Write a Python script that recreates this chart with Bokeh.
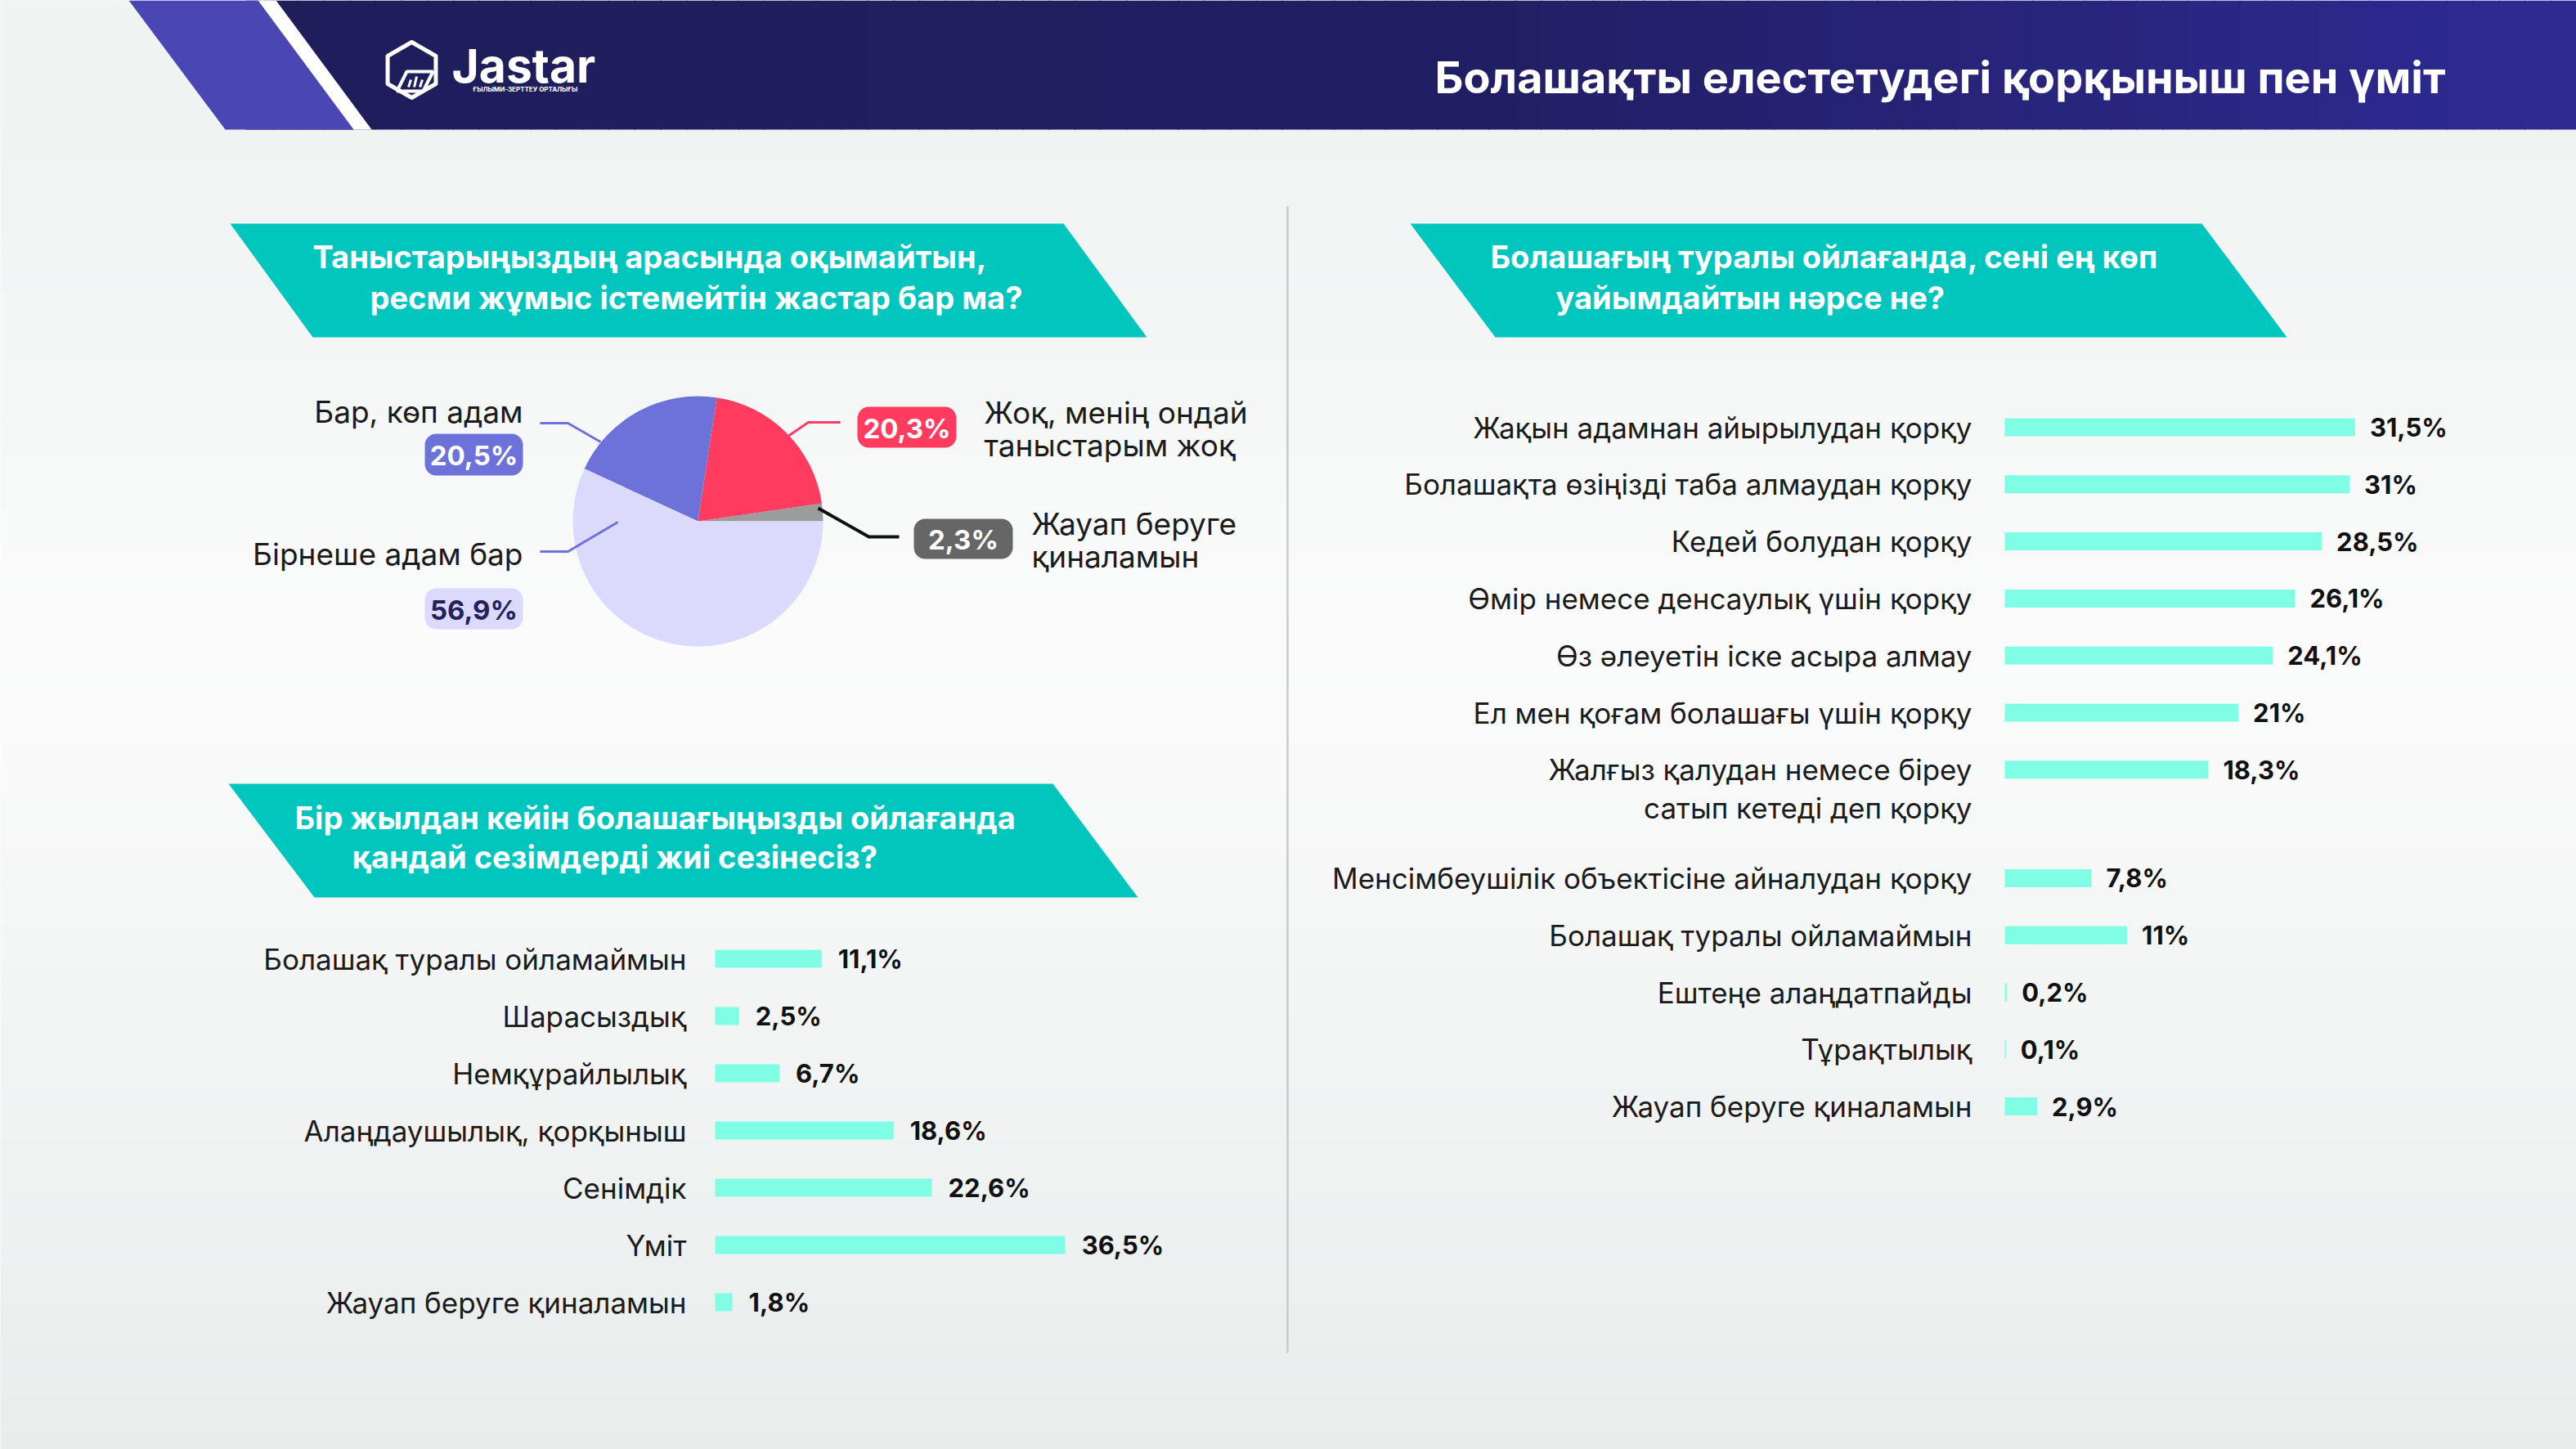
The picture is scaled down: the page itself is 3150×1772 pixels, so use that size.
import numpy as np
from bokeh.plotting import figure
from bokeh.models import Range1d
from bokeh.core.properties import value
from bokeh.embed import file_html
from bokeh.resources import INLINE

# ---------------- data ----------------
page_title = "Болашақты елестетудегі қорқыныш пен үміт"
logo_name = "Jastar"
logo_sub = "ҒЫЛЫМИ-ЗЕРТТЕУ ОРТАЛЫҒЫ"

q1_lines = ["Таныстарыңыздың арасында оқымайтын,",
            "ресми жұмыс істемейтін жастар бар ма?"]
pie_labels = ["Жауап беруге\nқиналамын", "Жоқ, менің ондай\nтаныстарым жоқ",
              "Бар, көп адам", "Бірнеше адам бар"]
pie_values = [2.3, 20.3, 20.5, 56.9]

q2_lines = ["Бір жылдан кейін болашағыңызды ойлағанда",
            "қандай сезімдерді жиі сезінесіз?"]
feel_labels = ["Болашақ туралы ойламаймын", "Шарасыздық", "Немқұрайлылық",
               "Алаңдаушылық, қорқыныш", "Сенімдік", "Үміт",
               "Жауап беруге қиналамын"]
feel_values = [11.1, 2.5, 6.7, 18.6, 22.6, 36.5, 1.8]

q3_lines = ["Болашағың туралы ойлағанда, сені ең көп",
            "уайымдайтын нәрсе не?"]
fear_labels = ["Жақын адамнан айырылудан қорқу",
               "Болашақта өзіңізді таба алмаудан қорқу",
               "Кедей болудан қорқу",
               "Өмір немесе денсаулық үшін қорқу",
               "Өз әлеуетін іске асыра алмау",
               "Ел мен қоғам болашағы үшін қорқу",
               "Жалғыз қалудан немесе біреу\nсатып кетеді деп қорқу",
               "Менсімбеушілік объектісіне айналудан қорқу",
               "Болашақ туралы ойламаймын",
               "Ештеңе алаңдатпайды",
               "Тұрақтылық",
               "Жауап беруге қиналамын"]
fear_values = [31.5, 31, 28.5, 26.1, 24.1, 21, 18.3, 7.8, 11, 0.2, 0.1, 2.9]

# ---------------- styling ----------------
FONT = "Inter"
TEAL = "#01c6be"
BAR = "#80fde5"
INK = "#1b1b1b"
pie_colors = ["#9c9c9c", "#ff3b60", "#6c72da", "#dcdafc"]
badge_fill = ["#666666", "#ff3b60", "#6c72da", "#dcdafc"]
badge_text = ["#ffffff", "#ffffff", "#ffffff", "#24215e"]
leader_color = ["#111111", "#ff3b60", "#6c72da", "#6c72da"]


def pct(v):
    return f"{v:g}".replace(".", ",") + "%"


def hex2rgb(h):
    h = h.lstrip("#")
    return np.array([int(h[i:i + 2], 16) for i in (0, 2, 4)], dtype=float)


def rgb2hex(c):
    return "#%02x%02x%02x" % tuple(int(round(v)) for v in c)


def interp_color(stops, t):
    pos = [s[0] for s in stops]
    cols = [hex2rgb(s[1]) for s in stops]
    out = [np.interp(t, pos, [c[k] for c in cols]) for k in range(3)]
    return rgb2hex(out)


W, H = 3150, 1772
FX0, FY0 = 0, 0

p = figure(width=W, height=H, x_range=Range1d(FX0, FX0 + W),
           y_range=Range1d(FY0 + H, FY0), output_backend="svg",
           toolbar_location=None, x_axis_type=None, y_axis_type=None,
           min_border=0, outline_line_color=None,
           background_fill_color="#f6f8f8", border_fill_color="#f6f8f8")
p.xgrid.visible = False
p.ygrid.visible = False

# ---------------- background gradient ----------------
bg_stops = [(0, "#eef2f1"), (160, "#eff3f2"), (800, "#fbfbfb"), (1772, "#e8edec")]
nb = 80
edges = np.linspace(0, 1772, nb + 1)
p.quad(left=0, right=3150, top=edges[:-1], bottom=edges[1:] + 1.5,
       color=[interp_color(bg_stops, (edges[i] + edges[i + 1]) / 2) for i in range(nb)],
       line_color=None)

# ---------------- header ----------------
HB = 158
hx = np.linspace(300, 3150, 91)
p.quad(left=hx[:-1], right=hx[1:] + 1.5, top=0, bottom=HB,
       color=[interp_color([(300, "#1f1e5b"), (1800, "#211f63"), (3150, "#2e2a93")],
                           (hx[i] + hx[i + 1]) / 2) for i in range(90)],
       line_color=None)
p.patch([0, 157, 275, 0], [0, 0, HB, HB], color="#eff3f2", line_color=None)
p.patch([157, 315, 432, 275], [0, 0, HB, HB], color="#4a46b3", line_color=None)
p.patch([315, 337, 454, 432], [0, 0, HB, HB], color="#ffffff", line_color=None)

# logo icon (hexagon box)
cx, cy, r = 503, 85, 34
a = np.deg2rad(np.arange(6) * 60 + 90)
p.patch(cx + r * np.cos(a), cy - r * np.sin(a), fill_color=None,
        line_color="white", line_width=5, line_join="round")
p.patch([cx - 6, cx + 26, cx + 14, cx - 18], [cy + 2, cy + 2, cy + 26, cy + 26],
        fill_color=None, line_color="white", line_width=4)
p.segment(x0=[cx - 4, cx + 3, cx + 10], y0=[cy + 21, cy + 21, cy + 21],
          x1=[cx - 1, cx + 6, cx + 13], y1=[cy + 12, cy + 8, cy + 12],
          line_color="white", line_width=3)
p.text(x=[552], y=[80], text=[logo_name], text_font=value(FONT), text_font_style="bold",
       text_font_size="57px", text_color="white", text_baseline="middle", text_align="left")
p.text(x=[578], y=[108], text=[logo_sub], text_font=value(FONT), text_font_style="bold",
       text_font_size="8px", text_color="white", text_baseline="middle", text_align="left")

p.text(x=[2990], y=[94], text=[page_title], text_font=value(FONT), text_font_style="bold",
       text_font_size="54px", text_color="white", text_baseline="middle", text_align="right")

# divider
p.segment(x0=[1574], y0=[252], x1=[1574], y1=[1654], line_color="#c9c9c9", line_width=2.5)


# ---------------- question banners ----------------
def banner(corners, lines, starts, ys):
    xs = [c[0] for c in corners]
    yy = [c[1] for c in corners]
    p.patch(xs, yy, color=TEAL, line_color=None)
    p.text(x=starts, y=ys, text=lines, text_font=value(FONT), text_font_style="bold",
           text_font_size="38px", text_color="white", text_baseline="middle",
           text_align="left")


banner([(281, 273), (1300, 273), (1402, 412), (382, 412)], q1_lines, [382, 452], [313, 363])
banner([(1724, 273), (2692, 273), (2796, 412), (1828, 412)], q3_lines, [1822, 1902], [313, 363])
banner([(279, 958), (1287, 958), (1391, 1097), (384, 1097)], q2_lines, [360, 430], [999, 1047])

# ---------------- pie ----------------
PIE_X, PIE_Y, PIE_R = 853, 637, 153
cum = np.concatenate([[0], np.cumsum(pie_values)]) / 100.0 * 2 * np.pi
p.wedge(x=PIE_X, y=PIE_Y, radius=PIE_R, start_angle=cum[:-1], end_angle=cum[1:],
        color=pie_colors, line_color=None)

# callouts: badge box, label anchor, leader path (layout of annotations)
callouts = [
    dict(box=(1117, 1238, 634, 683), lab=(1261, 640, "left"),
         path=([1000, 1062, 1099], [621, 656, 656])),
    dict(box=(1048, 1169, 497, 547), lab=(1203, 504, "left"),
         path=([963, 988, 1027], [533, 516, 516])),
    dict(box=(519, 639, 530, 581), lab=(639, 503, "right"),
         path=([660, 694, 734], [517, 517, 540])),
    dict(box=(519, 639, 719, 769), lab=(639, 677, "right"),
         path=([660, 694, 755], [674, 674, 638])),
]
for i, c in enumerate(callouts):
    l, rr, t, b = c["box"]
    p.line(c["path"][0], c["path"][1], line_color=leader_color[i],
           line_width=4 if i == 0 else 3, line_join="round")
    p.quad(left=[l], right=[rr], top=[t], bottom=[b], color=badge_fill[i],
           line_color=None, border_radius=14)
    p.text(x=[(l + rr) / 2], y=[(t + b) / 2 + 1], text=[pct(pie_values[i])],
           text_font=value(FONT), text_font_style="bold", text_font_size="33px",
           text_color=badge_text[i], text_baseline="middle", text_align="center")
    lx, ly, al = c["lab"]
    parts = pie_labels[i].split("\n")
    p.text(x=[lx] * len(parts), y=[ly + 40 * k for k in range(len(parts))], text=parts,
           text_font=value(FONT), text_font_size="37px", text_color=INK,
           text_baseline="middle", text_align=al)


# ---------------- bar charts ----------------
xr, yr = {}, {}


def bar_chart(name, labels, values, x0, scale, y0, dy, gap_after, gap, bar_px,
              label_gap, value_gap, line_px):
    xr[name + "_x"] = Range1d((FX0 - x0) / scale, (FX0 + W - x0) / scale)
    top = (FY0 - y0) / dy
    yr[name + "_y"] = Range1d(top + H / dy, top)
    slots = [i + (gap if gap_after is not None and i > gap_after else 0)
             for i in range(len(values))]
    kw = dict(x_range_name=name + "_x", y_range_name=name + "_y")
    p.hbar(y=slots, left=0, right=values, height=bar_px / dy, color=BAR,
           line_color=None, **kw)
    p.text(x=values, y=slots, text=[pct(v) for v in values], x_offset=value_gap,
           text_font=value(FONT), text_font_style="bold", text_font_size="31px",
           text_color="#111111", text_baseline="middle", text_align="left", **kw)
    ty, tt = [], []
    for s, lab in zip(slots, labels):
        for k, part in enumerate(lab.split("\n")):
            ty.append(s + k * line_px / dy)
            tt.append(part)
    p.text(x=[0] * len(tt), y=ty, text=tt, x_offset=-label_gap,
           text_font=value(FONT), text_font_size="35px", text_color=INK,
           text_baseline="middle", text_align="right", **kw)


bar_chart("feel", feel_labels, feel_values, x0=874, scale=11.73, y0=1172, dy=70,
          gap_after=None, gap=0, bar_px=22, label_gap=35, value_gap=20, line_px=47)
bar_chart("fear", fear_labels, fear_values, x0=2451, scale=13.6, y0=522, dy=69.8,
          gap_after=6, gap=0.9, bar_px=22, label_gap=40, value_gap=18, line_px=47)

p.extra_x_ranges = xr
p.extra_y_ranges = yr

open("out.html", "w").write(file_html(p, INLINE))
